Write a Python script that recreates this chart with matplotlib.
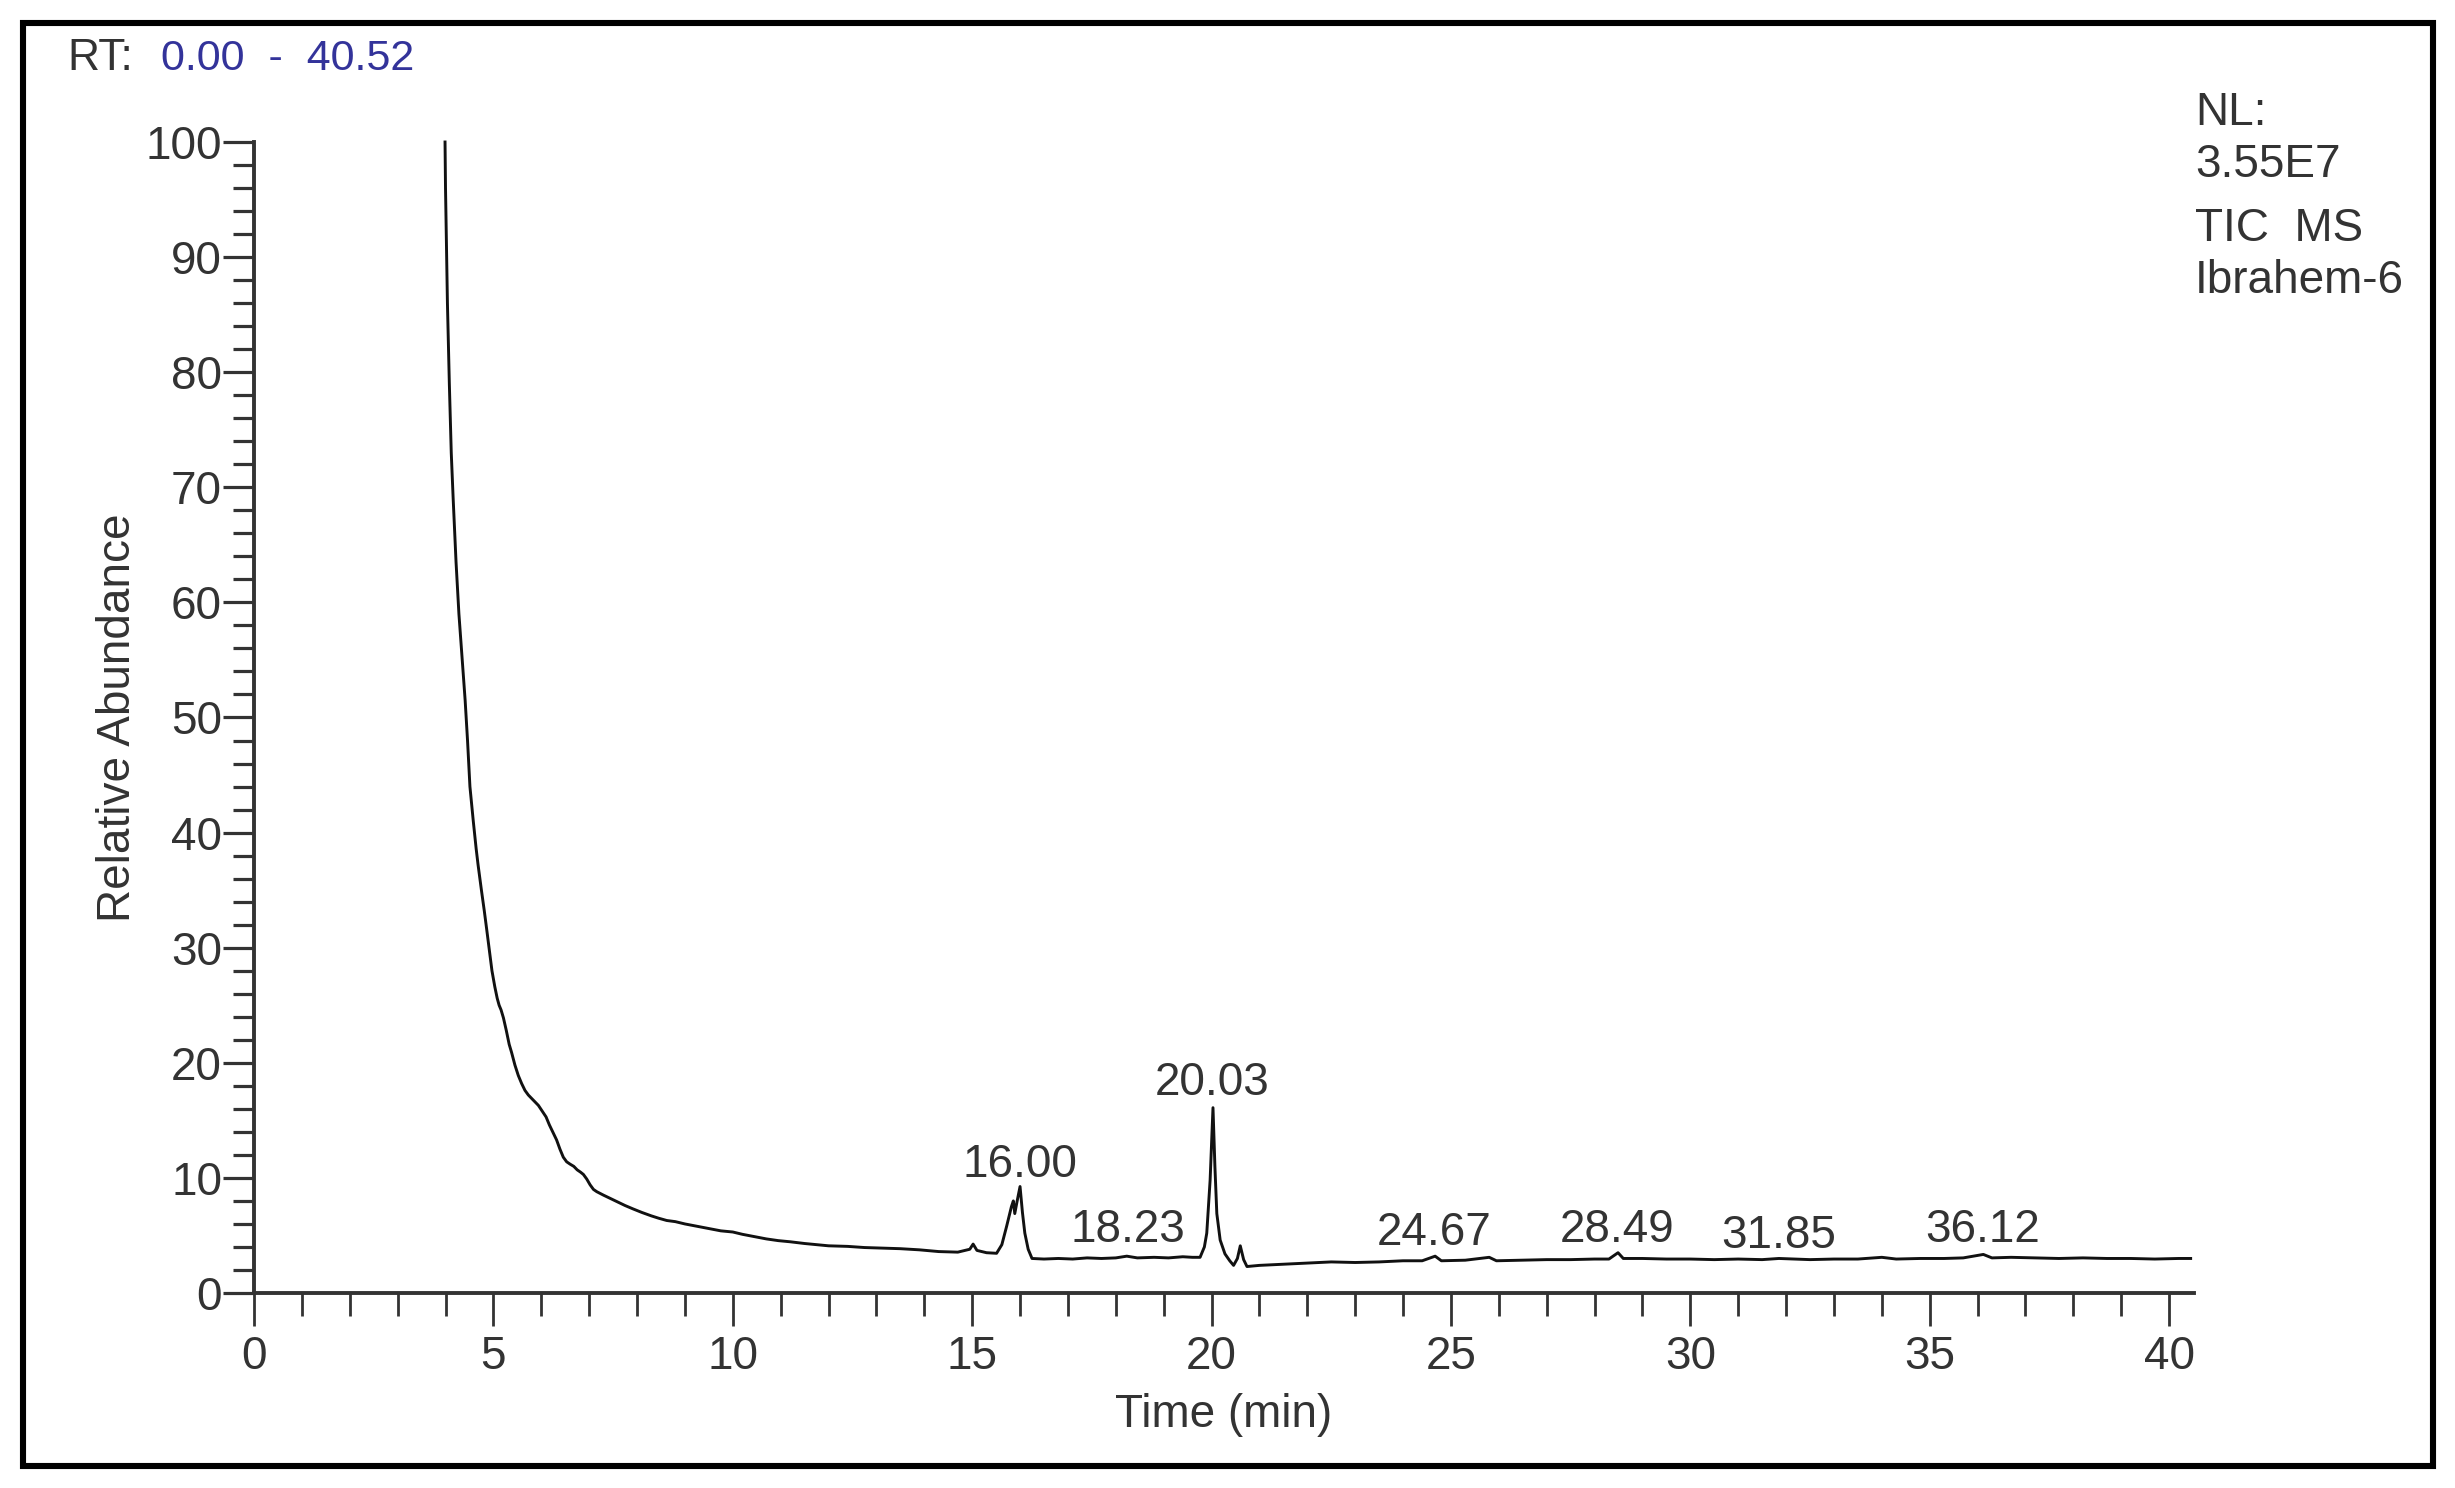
import matplotlib
matplotlib.use("Agg")
from matplotlib import pyplot as plt
from matplotlib.patches import Rectangle
from matplotlib.ticker import MultipleLocator

plt.rcParams['font.family'] = ['Liberation Sans', 'DejaVu Sans']

# chromatogram trace (time in min, relative abundance in %)
rt = [3.99, 4.00, 4.04, 4.08, 4.12, 4.16, 4.22, 4.28, 4.34, 4.41, 4.46, 4.51, 4.58, 4.64,
      4.68, 4.75, 4.81, 4.86, 4.92, 4.97, 5.03, 5.08, 5.12, 5.16, 5.21, 5.27, 5.33, 5.38,
      5.45, 5.52, 5.59, 5.66, 5.73, 5.80, 5.87, 5.94, 6.02, 6.10, 6.17, 6.24, 6.32, 6.39,
      6.46, 6.53, 6.60, 6.68, 6.75, 6.82, 6.88, 6.95, 7.02, 7.09, 7.16, 7.30, 7.45, 7.60,
      7.75, 7.92, 8.10, 8.30, 8.45, 8.62, 8.80, 9.00, 9.25, 9.50, 9.75, 10.00, 10.20, 10.45,
      10.70, 10.95, 11.20, 11.50, 11.76, 12.00, 12.40, 12.75, 13.10, 13.50, 13.90, 14.30,
      14.70, 14.95, 15.02, 15.10, 15.30, 15.51, 15.62, 15.72, 15.82, 15.86, 15.89, 15.94,
      16.00, 16.05, 16.10, 16.17, 16.25, 16.50, 16.80, 17.10, 17.40, 17.70, 18.00, 18.23,
      18.45, 18.80, 19.10, 19.40, 19.60, 19.76, 19.85, 19.90, 19.97, 20.03, 20.07, 20.11,
      20.18, 20.28, 20.38, 20.46, 20.54, 20.60, 20.67, 20.74, 21.00, 21.50, 22.00, 22.50,
      23.00, 23.50, 24.00, 24.40, 24.67, 24.80, 25.30, 25.80, 25.95, 26.50, 27.00, 27.50,
      28.00, 28.30, 28.49, 28.60, 29.00, 29.50, 30.00, 30.50, 31.00, 31.50, 31.85, 32.50,
      33.00, 33.50, 34.00, 34.30, 34.80, 35.30, 35.70, 36.12, 36.30, 36.70, 37.20, 37.70,
      38.20, 38.70, 39.20, 39.70, 40.20, 40.45]
abundance = [100.0, 96.0, 86.0, 79.0, 73.0, 69.0, 63.5, 59.0, 55.5, 51.5, 48.0, 44.0, 41.0, 38.6,
             37.2, 35.0, 33.2, 31.6, 29.6, 28.0, 26.6, 25.6, 25.0, 24.6, 23.9, 22.8, 21.6, 20.9,
             19.8, 18.9, 18.2, 17.6, 17.2, 16.9, 16.6, 16.3, 15.8, 15.3, 14.6, 14.0, 13.3, 12.5,
             11.8, 11.4, 11.2, 11.0, 10.7, 10.5, 10.3, 9.9, 9.4, 9.0, 8.8, 8.5, 8.2, 7.9,
             7.6, 7.3, 7.0, 6.7, 6.5, 6.3, 6.2, 6.0, 5.8, 5.6, 5.4, 5.3, 5.1, 4.9,
             4.7, 4.55, 4.45, 4.3, 4.2, 4.1, 4.05, 3.95, 3.9, 3.85, 3.75, 3.6,
             3.55, 3.8, 4.25, 3.7, 3.5, 3.45, 4.2, 5.8, 7.5, 8.0, 6.9, 8.0,
             9.25, 7.0, 5.2, 3.8, 3.0, 2.95, 3.0, 2.95, 3.05, 3.0, 3.05, 3.2,
             3.05, 3.1, 3.05, 3.15, 3.1, 3.1, 4.0, 5.2, 9.8, 16.1, 11.0, 6.9,
             4.6, 3.4, 2.8, 2.4, 3.0, 4.1, 2.9, 2.3, 2.4, 2.5, 2.6, 2.7,
             2.65, 2.7, 2.8, 2.8, 3.2, 2.8, 2.85, 3.1, 2.8, 2.85, 2.9, 2.9,
             2.95, 2.95, 3.5, 3.0, 3.0, 2.95, 2.95, 2.9, 2.95, 2.9, 3.0, 2.9,
             2.95, 2.95, 3.1, 2.95, 3.0, 3.0, 3.05, 3.35, 3.05, 3.1, 3.05, 3.0,
             3.05, 3.0, 3.0, 2.95, 3.0, 3.0]

# peak annotations
peak_labels = ["16.00", "18.23", "20.03", "24.67", "28.49", "31.85", "36.12"]
peak_x = [16.00, 18.26, 20.02, 24.65, 28.47, 31.85, 36.10]
peak_y = [10.1, 4.46, 17.2, 4.2, 4.4, 3.9, 4.4]

rt_range = "0.00  -  40.52"
info_lines = ["NL:", "3.55E7", "TIC  MS", "Ibrahem-6"]

W, H = 2455, 1488
dark = '#333333'
blue = '#33339a'

fig = plt.figure(figsize=(W / 100, H / 100), dpi=100)
ax = fig.add_axes([254 / W, 1 - 1293 / H, (2194 - 254) / W, 1151 / H])

ax.plot(rt, abundance, color='#111111', lw=2.1, clip_on=False)

for lab, x, y in zip(peak_labels, peak_x, peak_y):
    ax.text(x, y, lab, ha='center', va='baseline', fontsize=33, color=dark)

ax.set_xlim(0, 40.52)
ax.set_ylim(0, 100)
ax.xaxis.set_major_locator(MultipleLocator(5))
ax.xaxis.set_minor_locator(MultipleLocator(1))
ax.yaxis.set_major_locator(MultipleLocator(10))
ax.yaxis.set_minor_locator(MultipleLocator(2))

for side in ['top', 'right']:
    ax.spines[side].set_visible(False)
for side in ['left', 'bottom']:
    ax.spines[side].set_linewidth(2.8)
    ax.spines[side].set_color(dark)

ax.tick_params(axis='x', which='major', direction='out', length=23.5, width=2.0,
               color=dark, labelsize=33, labelcolor=dark, pad=7)
ax.tick_params(axis='x', which='minor', direction='out', length=16.5, width=2.0, color=dark)
ax.tick_params(axis='y', which='major', direction='out', length=22, width=2.3,
               color=dark, labelsize=33, labelcolor=dark, pad=1)
ax.tick_params(axis='y', which='minor', direction='out', length=15, width=2.3, color=dark)

ax.set_xlabel("Time (min)", fontsize=33, color=dark)
ax.xaxis.set_label_coords(0.5, -0.087)
ax.set_ylabel("Relative Abundance", fontsize=33, color=dark)
ax.yaxis.set_label_coords(-0.059, 0.5)

# header text
fig.text(67 / W, 1 - 70 / H, "RT:", fontsize=32, color=dark, ha='left', va='baseline')
fig.text(161 / W, 1 - 70 / H, rt_range, fontsize=31, color=blue, ha='left', va='baseline')

info_base = [125, 177, 241, 293]
for line, yb in zip(info_lines, info_base):
    fig.text(2195 / W, 1 - yb / H, line, fontsize=33, color=dark, ha='left', va='baseline')

# outer frame
fig.patches.append(Rectangle((22.5 / W, 22.5 / H), (2433 - 22.5) / W, (1465 - 22.5) / H,
                             transform=fig.transFigure, fill=False, lw=4.4, color='black'))

fig.savefig("out.png", dpi=100)
